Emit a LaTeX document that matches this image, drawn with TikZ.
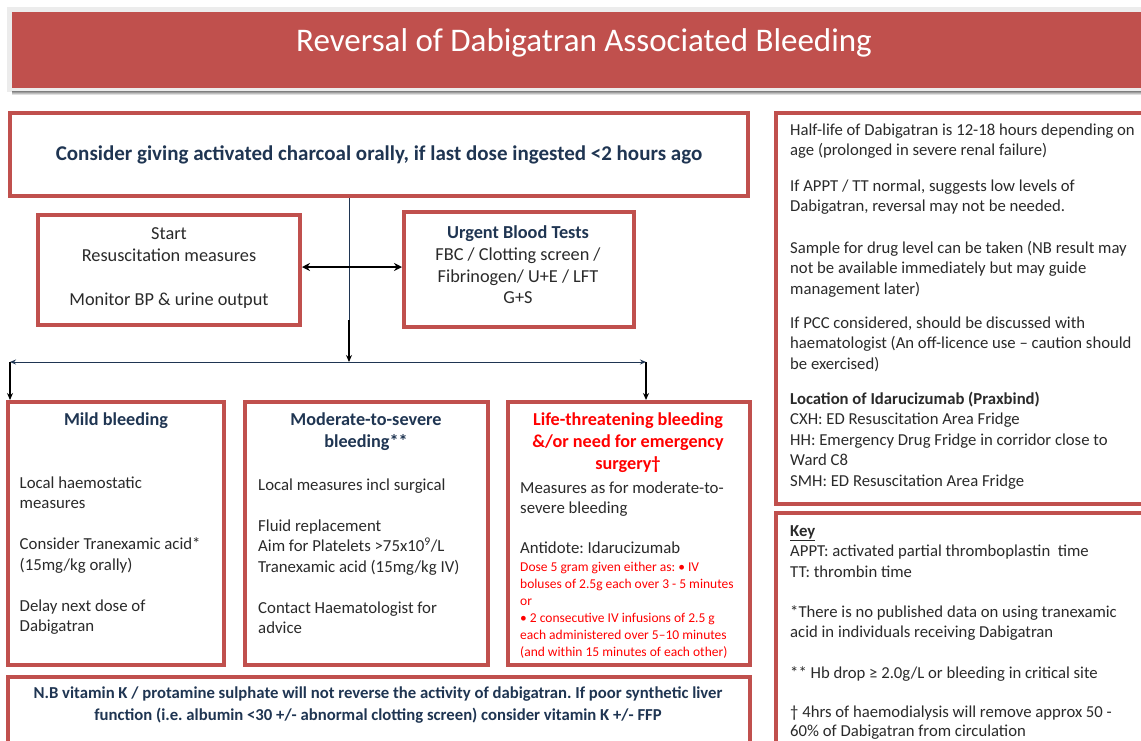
\documentclass[tikz,border=0pt]{standalone}
\usepackage{fontspec}
\setmainfont{Carlito}
\usetikzlibrary{arrows.meta}
\definecolor{bred}{HTML}{C0504D}
\definecolor{navy}{HTML}{1F3552}
\definecolor{txt}{HTML}{2A2A2A}
\definecolor{lred}{HTML}{FF0000}
\definecolor{shade}{HTML}{A89696}
\newcommand\fsz[2]{\fontsize{#1}{#2}\selectfont}
\frenchspacing
\begin{document}
\begin{tikzpicture}[x=1pt,y=-1pt,
  box/.style={draw=bred, line width=4pt, fill=white, inner sep=0pt},
  pbox/.style={draw=bred, line width=3.5pt, fill=white, inner sep=0pt},
  para/.style={inner sep=0pt, text=txt, align=left, anchor=north west, font=\frenchspacing\fsz{16.8}{20.5}},
  rpara/.style={inner sep=0pt, text=txt, align=left, anchor=north west, font=\frenchspacing\fsz{16.7}{20.5}},
  head/.style={inner sep=0pt, text=navy, align=center, anchor=north, font=\frenchspacing\fsz{18.2}{22}\bfseries},
  conn/.style={line width=1.3pt, black},
  tip/.style={-{Stealth[length=7pt,width=6pt]}}
]
\useasboundingbox (0,0) rectangle (1141,740);
\clip (0,0) rectangle (1141,740);
\fill[white] (0,0) rectangle (1141,740);

% title banner
\fill[gray!15] (7,7) rectangle (1141,92);
\fill[shade] (12,91) rectangle (1141,95);
\fill[bred] (12,12) rectangle (1141,88);
\node[inner sep=0pt, anchor=base, text=white, font=\fsz{33}{38}] (title) at (584,51) {Reversal of Dabigatran Associated Bleeding};

% boxes
\node[box, minimum width=738pt, minimum height=83pt] (charcoal) at (379,154.5) {};
\node[box, minimum width=262pt, minimum height=110pt] (start) at (169,270) {};
\node[box, minimum width=230pt, minimum height=115pt] (urgent) at (519,269.5) {};
\node[box, minimum width=216pt, minimum height=263pt] (mild) at (116,533.5) {};
\node[box, minimum width=243pt, minimum height=263pt] (moderate) at (366.5,533.5) {};
\node[box, minimum width=242pt, minimum height=263pt] (life) at (629,533.5) {};
\node[box, minimum width=742pt, minimum height=83pt] (nb) at (379,718.5) {};
\node[pbox, minimum width=384pt, minimum height=391pt] (info) at (968,308.5) {};
\node[pbox, minimum width=384pt, minimum height=247pt] (key) at (968,636.5) {};

% connectors
\coordinate (mid) at (349,320);
\coordinate (split) at (349,362);
\coordinate (lft) at (10,362);
\coordinate (rgt) at (646,362);
\coordinate (ay) at (0,267);
\draw[navy, line width=0.8pt] (charcoal.south -| mid) -- (mid);
\draw[conn, tip] (mid) -- (split);
\draw[navy, line width=1pt, {Stealth[length=6pt,width=5pt]}-{Stealth[length=6pt,width=5pt]}] (lft) -- (rgt);
\draw[conn, tip] (lft) -- (lft |- mild.north);
\draw[conn, tip] (rgt) -- (rgt |- life.north);
\draw[line width=1.8pt, black, {Stealth[length=8pt,width=8pt]}-{Stealth[length=8pt,width=8pt]}] (start.east |- ay) -- (urgent.west |- ay);

% charcoal
\node[inner sep=0pt, anchor=base, text=navy, font=\fsz{21}{24}\bfseries] (charcoaltext) at (379,160.5) {Consider giving activated charcoal orally, if last dose ingested <2 hours ago};

% start
\node[inner sep=0pt, anchor=north, align=center, text=txt, font=\fsz{18.3}{22}] (starttext) at (169,224.1) {\strut Start\\Resuscitation measures\\[22pt]Monitor BP \& urine output};

% urgent
\node[inner sep=0pt, anchor=north, align=center, text=txt, font=\fsz{18.3}{21.7}] (urgenttext) at (518,223.3) {\strut\textcolor{navy}{\bfseries Urgent Blood Tests}\\FBC / Clotting screen /\\Fibrinogen/ U+E / LFT\\G+S};

% mild
\node[head] (mildhead) at (116,410.1) {\strut Mild bleeding};
\node[para] (mildtext) at (19.5,473.6) {\strut Local haemostatic\\measures\\[20.5pt]Consider Tranexamic acid*\\(15mg/kg orally)\\[20.5pt]Delay next dose of\\Dabigatran};

% moderate
\node[head] (modhead) at (366,410.1) {\strut Moderate-to-severe\\bleeding**};
\node[para] (modtext) at (258,475.6) {\strut Local measures incl surgical\\[20.5pt]Fluid replacement\\Aim for Platelets >75x10\textsuperscript{9}/L\\Tranexamic acid (15mg/kg IV)\\[20.5pt]Contact Haematologist for\\advice};

% life-threatening
\node[head, text=lred] (lifehead) at (628,410.1) {\strut Life-threatening bleeding\\\&/or need for emergency\\surgery†};
\node[para] (lifetext) at (520,478.6) {\strut Measures as for moderate-to-\\severe bleeding};
\node[para] (antidote) at (520,538.6) {\strut Antidote: Idarucizumab};
\node[para, text=lred, font=\frenchspacing\fsz{13.5}{17}] (dose) at (520,559.1) {\strut Dose 5 gram given either as: • IV\\boluses of 2.5g each over 3 - 5 minutes\\or\\• 2 consecutive IV infusions of 2.5 g\\each administered over 5–10 minutes\\(and within 15 minutes of each other)};

% NB
\node[inner sep=0pt, anchor=north, align=center, text=navy, font=\frenchspacing\fsz{16.7}{22}\bfseries] (nbtext) at (378,682.6) {\strut N.B vitamin K / protamine sulphate will not reverse the activity of dabigatran. If poor synthetic liver\\function (i.e. albumin <30 +/- abnormal clotting screen) consider vitamin K +/- FFP};

% right info panel
\node[rpara] (p1) at (790,120.65) {\strut Half-life of Dabigatran is 12-18 hours depending on\\age (prolonged in severe renal failure)};
\node[rpara] (p2) at (790,176.65) {\strut If APPT / TT normal, suggests low levels of\\Dabigatran, reversal may not be needed.};
\node[rpara] (p3) at (790,238.65) {\strut Sample for drug level can be taken (NB result may\\not be available immediately but may guide\\management later)};
\node[rpara] (p4) at (790,313.65) {\strut If PCC considered, should be discussed with\\haematologist (An off-licence use – caution should\\be exercised)};
\node[rpara] (p5) at (790,389.65) {\strut\textbf{Location of Idarucizumab (Praxbind)}\\CXH: ED Resuscitation Area Fridge\\HH: Emergency Drug Fridge in corridor close to\\Ward C8\\SMH: ED Resuscitation Area Fridge};

% key panel
\node[rpara] (k1) at (790,521.65) {\strut\textbf{\underline{Key}}\\APPT: activated partial thromboplastin\ \ time\\TT: thrombin time};
\node[rpara] (k2) at (790,602.65) {\strut *There is no published data on using tranexamic\\acid in individuals receiving Dabigatran};
\node[rpara] (k3) at (790,663.65) {\strut ** Hb drop ≥ 2.0g/L or bleeding in critical site};
\node[rpara, font=\frenchspacing\fsz{16.7}{19.5}] (k4) at (790,703.2) {\strut † 4hrs of haemodialysis will remove approx 50 -\\60\% of Dabigatran from circulation};
\end{tikzpicture}
\end{document}
